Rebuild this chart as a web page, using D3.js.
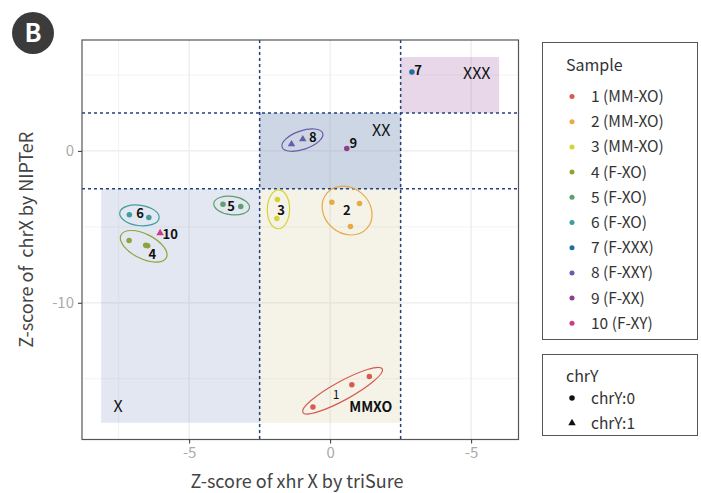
<!DOCTYPE html>
<html>
<head>
<meta charset="utf-8" />
<title>Z-score of chrX: NIPTeR vs triSure</title>
<script src="https://cdnjs.cloudflare.com/ajax/libs/d3/7.8.5/d3.min.js"></script>
<style>
body { margin: 0; background: #fff; }
svg { font-family: "Noto Sans CJK KR", "Noto Sans", sans-serif; }
</style>
</head>
<body>
<svg id="chart" width="701" height="493"></svg>
<script>
// samples and their colours
const samples = ["1 (MM-XO)", "2 (MM-XO)", "3 (MM-XO)", "4 (F-XO)", "5 (F-XO)", "6 (F-XO)",
                 "7 (F-XXX)", "8 (F-XXY)", "9 (F-XX)", "10 (F-XY)"];
const sampleColors = ["#d65b50", "#e8aa46", "#d6d432", "#8ca53a", "#5f9f6b", "#3f9c9f",
                      "#1f6fa0", "#6b5ba8", "#8d3f8b", "#cc3a8c"];

// points (sample id, z triSure, z NIPTeR, chrY)
const pointSample = [1, 1, 1, 2, 2, 2, 3, 3, 4, 4, 4, 5, 5, 6, 6, 7, 8, 8, 9, 10];
const pointX = [-0.61, 0.77, 1.39, 0.06, 1.04, 0.72, -1.87, -1.89, -7.13, -6.54, -6.47,
                -3.80, -3.17, -7.12, -6.43, 2.90, -1.37, -0.97, 0.59, -6.03];
const pointY = [-16.86, -15.39, -14.85, -3.38, -3.47, -4.98, -3.20, -4.45, -5.90, -6.22, -6.24,
                -3.51, -3.66, -4.21, -4.39, 5.20, 0.44, 0.77, 0.15, -5.41];
const pointChrY = [0, 0, 0, 0, 0, 0, 0, 0, 0, 0, 0, 0, 0, 0, 0, 0, 1, 1, 0, 1];

// sample labels
const labelSample = [1, 2, 3, 4, 5, 6, 7, 8, 9, 10];
const labelX = [0.21, 0.59, -1.74, -6.31, -3.51, -6.74, 3.12, -0.61, 0.82, -5.67];
const labelY = [-16.05, -3.88, -3.88, -6.78, -3.62, -4.14, 5.33, 0.92, 0.53, -5.46];
const ellipseSamples = [1, 2, 3, 4, 5, 6, 8];

// karyotype regions
const regionNames = ["X", "MMXO", "XX", "XXX"];
const regionX0 = [-8.12, -2.5, -2.5, 2.5];
const regionX1 = [-2.5, 2.5, 2.5, 5.99];
const regionY0 = [-17.9, -17.9, -2.5, 2.5];
const regionY1 = [-2.5, -2.5, 2.5, 6.18];
const regionFills = ["#7088bb", "#cdc38c", "#8298bb", "#b27ab2"];
const regionAlpha = [0.2, 0.2, 0.4, 0.3];
const regionLabelX = [-7.52, 1.44, 1.81, 5.2];
const regionLabelY = [-16.84, -16.89, 1.38, 5.11];

const cutoffs = [-2.5, 2.5];

const xTickValues = [-5, 0, 5];
const xTickLabels = ["-5", "0", "-5"];
const yTickValues = [0, -10];
const yTickLabels = ["0", "-10"];
const xMinor = [-7.5, -2.5, 2.5];
const yMinor = [5, -5, -15];

const chrYLevels = ["chrY:0", "chrY:1"];

const svg = d3.select("#chart");
const panel = { left: 82, top: 40, right: 518.5, bottom: 439.5 };

const x = d3.scaleLinear().domain([-8.8, 6.68]).range([panel.left, panel.right]);
const y = d3.scaleLinear().domain([7.3, -19.0]).range([panel.top, panel.bottom]);
const color = d3.scaleOrdinal().domain(d3.range(1, 11)).range(sampleColors);
const shape = d3.scaleOrdinal().domain([0, 1]).range([d3.symbolCircle, d3.symbolTriangle]);

const points = pointSample.map((s, i) => ({ s: s, x: pointX[i], y: pointY[i], chrY: pointChrY[i] }));
const labels = labelSample.map((s, i) => ({ s: s, x: labelX[i], y: labelY[i] }));

// panel background + grid
svg.append("rect").attr("x", panel.left).attr("y", panel.top)
  .attr("width", panel.right - panel.left).attr("height", panel.bottom - panel.top)
  .attr("fill", "#fff");

const grid = svg.append("g");
grid.selectAll(".vmin").data(xMinor).join("line")
  .attr("x1", d => x(d)).attr("x2", d => x(d)).attr("y1", panel.top).attr("y2", panel.bottom)
  .attr("stroke", "#f0f0f0").attr("stroke-width", 0.8);
grid.selectAll(".hmin").data(yMinor).join("line")
  .attr("y1", d => y(d)).attr("y2", d => y(d)).attr("x1", panel.left).attr("x2", panel.right)
  .attr("stroke", "#f0f0f0").attr("stroke-width", 0.8);
grid.selectAll(".vmaj").data(xTickValues).join("line")
  .attr("x1", d => x(d)).attr("x2", d => x(d)).attr("y1", panel.top).attr("y2", panel.bottom)
  .attr("stroke", "#ebebeb").attr("stroke-width", 1.2);
grid.selectAll(".hmaj").data(yTickValues).join("line")
  .attr("y1", d => y(d)).attr("y2", d => y(d)).attr("x1", panel.left).attr("x2", panel.right)
  .attr("stroke", "#ebebeb").attr("stroke-width", 1.2);

// regions
svg.append("g").selectAll("rect").data(regionNames).join("rect")
  .attr("x", (d, i) => x(regionX0[i]))
  .attr("width", (d, i) => x(regionX1[i]) - x(regionX0[i]))
  .attr("y", (d, i) => y(regionY1[i]))
  .attr("height", (d, i) => y(regionY0[i]) - y(regionY1[i]))
  .attr("fill", (d, i) => regionFills[i])
  .attr("fill-opacity", (d, i) => regionAlpha[i]);

// cutoff lines
const cut = svg.append("g").attr("stroke", "#23427c").attr("stroke-width", 1.5)
  .attr("stroke-dasharray", "3,3");
cut.selectAll(".cv").data(cutoffs).join("line")
  .attr("x1", d => x(d)).attr("x2", d => x(d)).attr("y1", panel.top).attr("y2", panel.bottom);
cut.selectAll(".ch").data(cutoffs).join("line")
  .attr("y1", d => y(d)).attr("y2", d => y(d)).attr("x1", panel.left).attr("x2", panel.right);

// enclosing ellipses (computed in pixel space from the group's points and label)
function ellipseFor(s) {
  const pts = points.filter(p => p.s === s).map(p => [x(p.x), y(p.y)]);
  const lab = labels.find(l => l.s === s);
  pts.push([x(lab.x), y(lab.y)]);
  const n = pts.length;
  const mx = d3.mean(pts, p => p[0]), my = d3.mean(pts, p => p[1]);
  let a = 0, b = 0, c = 0;
  pts.forEach(p => { const dx = p[0] - mx, dy = p[1] - my; a += dx * dx; b += dx * dy; c += dy * dy; });
  a /= n; b /= n; c /= n;
  const theta = 0.5 * Math.atan2(2 * b, a - c);
  const h = Math.sqrt(((a - c) / 2) ** 2 + b * b);
  const l1 = (a + c) / 2 + h, l2 = Math.max((a + c) / 2 - h, 0.3);
  let k2 = 0;
  pts.forEach(p => {
    const dx = p[0] - mx, dy = p[1] - my;
    const u = dx * Math.cos(theta) + dy * Math.sin(theta);
    const v = -dx * Math.sin(theta) + dy * Math.cos(theta);
    k2 = Math.max(k2, u * u / l1 + v * v / l2);
  });
  const pad = 8.5;
  return { s: s, cx: mx, cy: my, rx: Math.sqrt(l1 * k2) + pad, ry: Math.sqrt(l2 * k2) + pad,
           angle: theta * 180 / Math.PI };
}
svg.append("g").selectAll("ellipse").data(ellipseSamples.map(ellipseFor)).join("ellipse")
  .attr("cx", d => d.cx).attr("cy", d => d.cy).attr("rx", d => d.rx).attr("ry", d => d.ry)
  .attr("transform", d => `rotate(${d.angle},${d.cx},${d.cy})`)
  .attr("fill", "none").attr("stroke", d => color(d.s)).attr("stroke-width", 1.2);

// points
svg.append("g").selectAll("path").data(points).join("path")
  .attr("transform", d => `translate(${x(d.x)},${y(d.y)})`)
  .attr("d", d => d3.symbol(shape(d.chrY), 24)())
  .attr("fill", d => color(d.s));

// sample labels
svg.append("g").selectAll("text").data(labels).join("text")
  .attr("x", d => x(d.x)).attr("y", d => y(d.y)).attr("dy", "0.36em")
  .attr("text-anchor", "middle")
  .attr("font-size", d => d.s === 1 ? 12 : 13)
  .attr("font-weight", d => d.s === 1 ? 400 : 700)
  .attr("fill", "#111")
  .text(d => d.s);

// region labels
svg.append("g").selectAll("text").data(regionNames).join("text")
  .attr("x", (d, i) => x(regionLabelX[i])).attr("y", (d, i) => y(regionLabelY[i])).attr("dy", "0.36em")
  .attr("text-anchor", "middle")
  .attr("font-size", d => d === "MMXO" ? 14 : 16)
  .attr("font-weight", d => d === "MMXO" ? 700 : 400)
  .attr("fill", "#111")
  .text(d => d);

// panel border
svg.append("rect").attr("x", panel.left).attr("y", panel.top)
  .attr("width", panel.right - panel.left).attr("height", panel.bottom - panel.top)
  .attr("fill", "none").attr("stroke", "#555").attr("stroke-width", 1.2);

// axes
const xAxis = svg.append("g").attr("transform", `translate(0,${panel.bottom})`)
  .call(d3.axisBottom(x).tickValues(xTickValues).tickSize(4).tickPadding(4)
    .tickFormat((d, i) => xTickLabels[i]));
const yAxis = svg.append("g").attr("transform", `translate(${panel.left},0)`)
  .call(d3.axisLeft(y).tickValues(yTickValues).tickSize(4).tickPadding(4)
    .tickFormat((d, i) => yTickLabels[i]));
[xAxis, yAxis].forEach(g => {
  g.select(".domain").remove();
  g.selectAll(".tick line").attr("stroke", "#333");
  g.selectAll(".tick text").attr("fill", "#aaa").attr("font-size", 15)
    .attr("font-family", "Noto Sans CJK KR, sans-serif");
});

svg.append("text").attr("x", 297).attr("y", 488)
  .attr("text-anchor", "middle").attr("font-size", 18).attr("fill", "#444")
  .text("Z-score of xhr X by triSure");
svg.append("text").attr("transform", `translate(33,${(panel.top + panel.bottom) / 2}) rotate(-90)`)
  .attr("text-anchor", "middle").attr("font-size", 18).attr("fill", "#444")
  .attr("xml:space", "preserve").style("white-space", "pre")
  .text("Z-score of  chrX by NIPTeR");

// legend: Sample
const leg1 = svg.append("g");
leg1.append("rect").attr("x", 542.5).attr("y", 42.5).attr("width", 155).attr("height", 297)
  .attr("fill", "#fff").attr("stroke", "#555").attr("stroke-width", 1);
leg1.append("text").attr("x", 566).attr("y", 65).attr("dy", "0.36em")
  .attr("font-size", 16).attr("fill", "#333").text("Sample");
const li = leg1.selectAll(".item").data(samples).join("g")
  .attr("transform", (d, i) => `translate(572,${96.5 + i * 25.2})`);
li.append("path").attr("d", d3.symbol(d3.symbolCircle, 20)()).attr("fill", (d, i) => sampleColors[i]);
li.append("text").attr("x", 19).attr("dy", "0.36em").attr("font-size", 15.5).attr("fill", "#333")
  .text(d => d);

// legend: chrY
const leg2 = svg.append("g");
leg2.append("rect").attr("x", 542.5).attr("y", 354.5).attr("width", 155).attr("height", 81)
  .attr("fill", "#fff").attr("stroke", "#555").attr("stroke-width", 1);
leg2.append("text").attr("x", 566).attr("y", 376.5).attr("dy", "0.36em")
  .attr("font-size", 16).attr("fill", "#333").text("chrY");
const ci = leg2.selectAll(".item").data(chrYLevels).join("g")
  .attr("transform", (d, i) => `translate(572,${398 + i * 25})`);
ci.append("path").attr("d", (d, i) => d3.symbol(shape(i), 24)()).attr("fill", "#111");
ci.append("text").attr("x", 19).attr("dy", "0.36em").attr("font-size", 15.5).attr("fill", "#333")
  .text(d => d);

// panel tag
svg.append("circle").attr("cx", 33).attr("cy", 33).attr("r", 21).attr("fill", "#3b3b3b");
svg.append("text").attr("x", 33).attr("y", 33).attr("dy", "0.36em").attr("text-anchor", "middle")
  .attr("font-size", 25).attr("font-weight", 700).attr("fill", "#fff").text("B");
</script>
</body>
</html>
